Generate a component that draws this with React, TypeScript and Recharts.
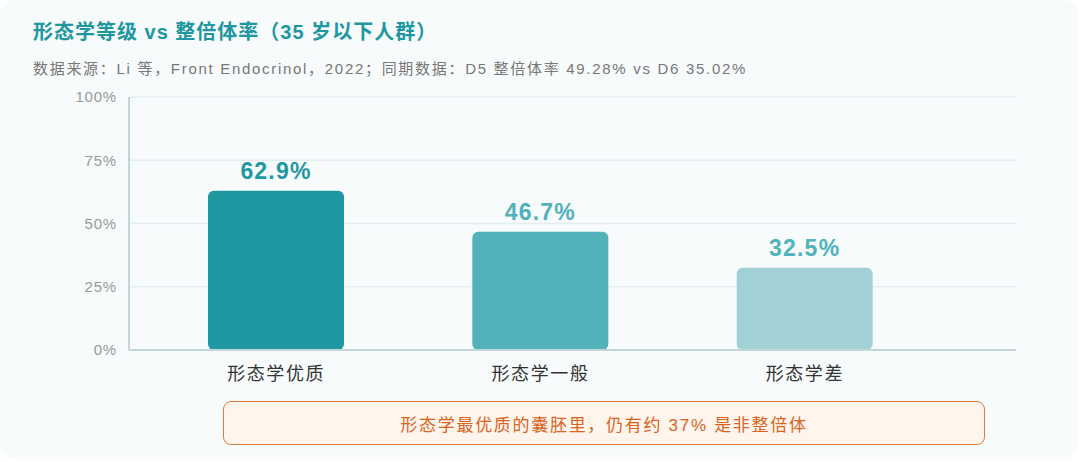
import React from 'react';
import { BarChart, Bar, XAxis, YAxis, CartesianGrid, Cell, LabelList } from 'recharts';

const categories = ['形态学优质', '形态学一般', '形态学差'];
const euploidRates = [62.9, 46.7, 32.5];
const barColors = ['#1f98a2', '#52b1bb', '#a2d1d5'];
const labelColors = ['#1f98a2', '#52b1bb', '#4fb3bd'];
const yTicks = [0, 25, 50, 75, 100];

// Helvetica-like latin + CJK fallback
const FONT = '"Liberation Sans", "Noto Sans CJK SC", sans-serif';

const chartData = categories.map((name, i) => ({ name, rate: euploidRates[i] }));

const ValueLabel = (props: any) => {
  const { x, y, width, index, value } = props;
  return (
    <text
      x={x + width / 2}
      y={y - 12}
      textAnchor="middle"
      fill={labelColors[index]}
      fontSize={23}
      fontWeight={700}
      letterSpacing={1.2}
      fontFamily={FONT}
    >
      {Number(value).toFixed(1)}%
    </text>
  );
};

export default function App() {
  return (
    <div
      style={{
        position: 'absolute',
        top: 0,
        left: 0,
        width: 1080,
        height: 462,
        background: '#ffffff',
        fontFamily: FONT,
        overflow: 'hidden',
      }}
    >
      <div
        style={{
          position: 'absolute',
          top: 0,
          left: 0,
          width: 1078,
          height: 459,
          background: '#f7fbfc',
          borderRadius: 16,
        }}
      />
      <div
        style={{
          position: 'absolute',
          left: 33,
          top: 18,
          fontSize: 20,
          fontWeight: 700,
          letterSpacing: 1,
          color: '#1e97a1',
          lineHeight: '28px',
          whiteSpace: 'nowrap',
        }}
      >
        形态学等级 vs 整倍体率（35 岁以下人群）
      </div>
      <div
        style={{
          position: 'absolute',
          left: 33,
          top: 58,
          fontSize: 15,
          letterSpacing: 1.7,
          color: '#777777',
          lineHeight: '22px',
          whiteSpace: 'nowrap',
        }}
      >
        数据来源：Li 等，Front Endocrinol，2022；同期数据：D5 整倍体率 49.28% vs D6 35.02%
      </div>
      <div style={{ position: 'absolute', top: 0, left: 0 }}>
        <BarChart
          width={1080}
          height={462}
          data={chartData}
          margin={{ top: 97, right: 64, bottom: 72, left: 0 }}
        >
          <CartesianGrid vertical={false} stroke="#e4eeef" strokeWidth={1.5} />
          <XAxis
            dataKey="name"
            axisLine={{ stroke: '#c3d5d7', strokeWidth: 2 }}
            tickLine={false}
            tickSize={0}
            tickMargin={17}
            height={40}
            padding={{ left: 15, right: 79 }}
            tick={{ fill: '#333333', fontSize: 18, letterSpacing: 1.6, fontFamily: FONT }}
          />
          <YAxis
            domain={[0, 100]}
            ticks={yTicks}
            width={129}
            axisLine={{ stroke: '#c3d5d7', strokeWidth: 2 }}
            tickLine={false}
            tickSize={0}
            tickMargin={12}
            tickFormatter={(v: number) => `${v}%`}
            tick={{ fill: '#999999', fontSize: 15, letterSpacing: 0.8, fontFamily: FONT }}
          />
          <Bar dataKey="rate" barSize={136} radius={[6, 6, 6, 6]} isAnimationActive={false}>
            {chartData.map((d, i) => (
              <Cell key={d.name} fill={barColors[i]} />
            ))}
            <LabelList dataKey="rate" content={ValueLabel} />
          </Bar>
        </BarChart>
      </div>
      <div
        style={{
          position: 'absolute',
          left: 223,
          top: 401,
          width: 762,
          height: 44,
          boxSizing: 'border-box',
          border: '1.5px solid #e07b3c',
          borderRadius: 8,
          background: '#fff5ec',
          color: '#d9641f',
          fontSize: 17,
          letterSpacing: 1.7,
          display: 'flex',
          alignItems: 'center',
          justifyContent: 'center',
          whiteSpace: 'nowrap',
        }}
      >
        形态学最优质的囊胚里，仍有约 37% 是非整倍体
      </div>
    </div>
  );
}
